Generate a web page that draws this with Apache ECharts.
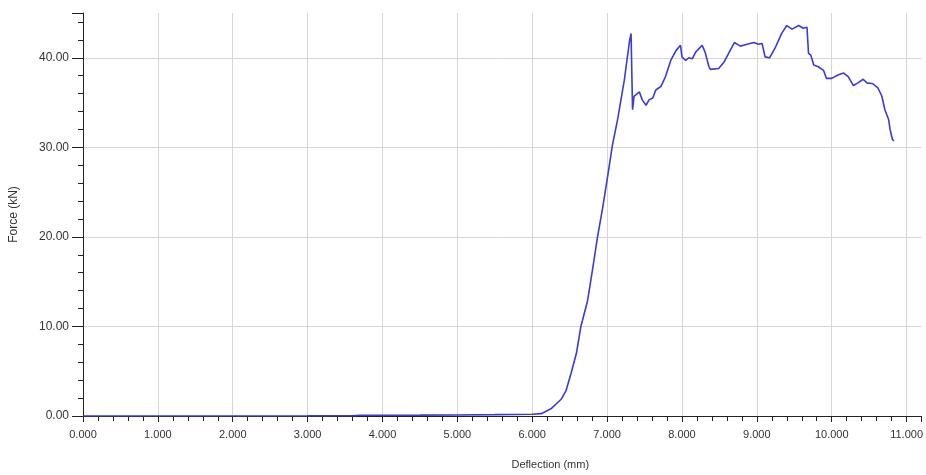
<!DOCTYPE html>
<html>
<head>
<meta charset="utf-8">
<script src="https://cdn.jsdelivr.net/npm/echarts@6/dist/echarts.min.js"></script>
<style>
html,body{margin:0;padding:0;background:#fff;}
#chart{width:926px;height:475px;}
</style>
</head>
<body>
<div id="chart"></div>
<script>
const deflection = [0,1,2,3,3.6,3.7,4.5,5.0,5.5,6.0,6.12,6.25,6.39,6.45,6.52,6.59,6.65,6.74,6.81,6.87,6.94,7.01,7.07,7.14,7.23,7.30,7.32,7.33,7.34,7.36,7.43,7.47,7.52,7.56,7.61,7.65,7.72,7.78,7.85,7.92,7.98,8.00,8.05,8.09,8.14,8.18,8.27,8.31,8.36,8.38,8.49,8.56,8.63,8.70,8.78,8.87,8.96,9.02,9.07,9.09,9.11,9.17,9.25,9.33,9.40,9.47,9.56,9.62,9.67,9.69,9.72,9.76,9.82,9.89,9.93,10.00,10.09,10.16,10.22,10.29,10.35,10.42,10.47,10.55,10.62,10.67,10.71,10.76,10.78,10.81,10.83];
const force = [0,0,0,0.01,0.02,0.08,0.1,0.12,0.15,0.2,0.26,0.8,1.9,2.8,4.8,7.0,10.0,12.9,16.6,19.9,23.2,26.9,30.2,33.1,37.5,41.9,42.7,42.6,34.2,35.7,36.2,35.3,34.7,35.3,35.5,36.4,36.8,37.9,39.7,40.8,41.4,40.1,39.7,40.0,39.9,40.6,41.4,40.6,39.0,38.7,38.8,39.5,40.6,41.7,41.3,41.5,41.7,41.5,41.6,41.6,40.1,40.0,41.2,42.7,43.6,43.2,43.6,43.3,43.4,40.5,40.3,39.2,39.0,38.6,37.7,37.7,38.1,38.3,37.9,36.9,37.2,37.6,37.2,37.1,36.6,35.7,34.2,33.1,32.0,30.9,30.7];
const xAxisTitle = 'Deflection (mm)';
const yAxisTitle = 'Force (kN)';

const points = deflection.map((x, i) => [x, force[i]]);
const grid = '#d6d6d6';
const font = 'Liberation Sans, Arial, sans-serif';

const chart = echarts.init(document.getElementById('chart'));
chart.setOption({
  animation: false,
  grid: {left: 83, top: 13, right: 1, bottom: 54, containLabel: false},
  xAxis: {
    type: 'value', min: 0, max: 11.2, interval: 1,
    name: xAxisTitle, nameLocation: 'middle', nameGap: 43,
    nameTextStyle: {color: '#333', fontSize: 11, fontFamily: font, padding: [0,0,0,96]},
    axisLine: {show: true, onZero: false, lineStyle: {color: '#222', width: 1}},
    axisTick: {show: true, length: 6, lineStyle: {color: '#222'}},
    minorTick: {show: true, splitNumber: 5, length: 5, lineStyle: {color: '#222'}},
    axisLabel: {color: '#333', fontSize: 11, fontFamily: font, margin: 13, showMaxLabel: false,
      formatter: v => v.toFixed(3)},
    splitLine: {show: true, lineStyle: {color: [grid,grid,grid,grid,grid,grid,grid,grid,grid,grid,grid,grid,'rgba(0,0,0,0)'], width: 1}}
  },
  yAxis: {
    type: 'value', min: 0, max: 45, interval: 10,
    name: yAxisTitle, nameLocation: 'middle', nameGap: 63, nameRotate: 90,
    nameTextStyle: {color: '#333', fontSize: 12, fontFamily: font},
    axisLine: {show: true, lineStyle: {color: '#222', width: 1}},
    axisTick: {show: true, length: 11, lineStyle: {color: '#222'}},
    minorTick: {show: true, splitNumber: 5, length: 5, lineStyle: {color: '#222'}},
    axisLabel: {color: '#333', fontSize: 12, fontFamily: font, margin: 14, showMaxLabel: false,
      formatter: v => v.toFixed(2)},
    splitLine: {show: true, lineStyle: {color: [grid,grid,grid,grid,grid,'rgba(0,0,0,0)'], width: 1}}
  },
  series: [{
    type: 'line', data: points, showSymbol: false, smooth: false,
    lineStyle: {color: '#3a3ade', width: 1.6},
    z: 3
  }]
});
</script>
</body>
</html>
